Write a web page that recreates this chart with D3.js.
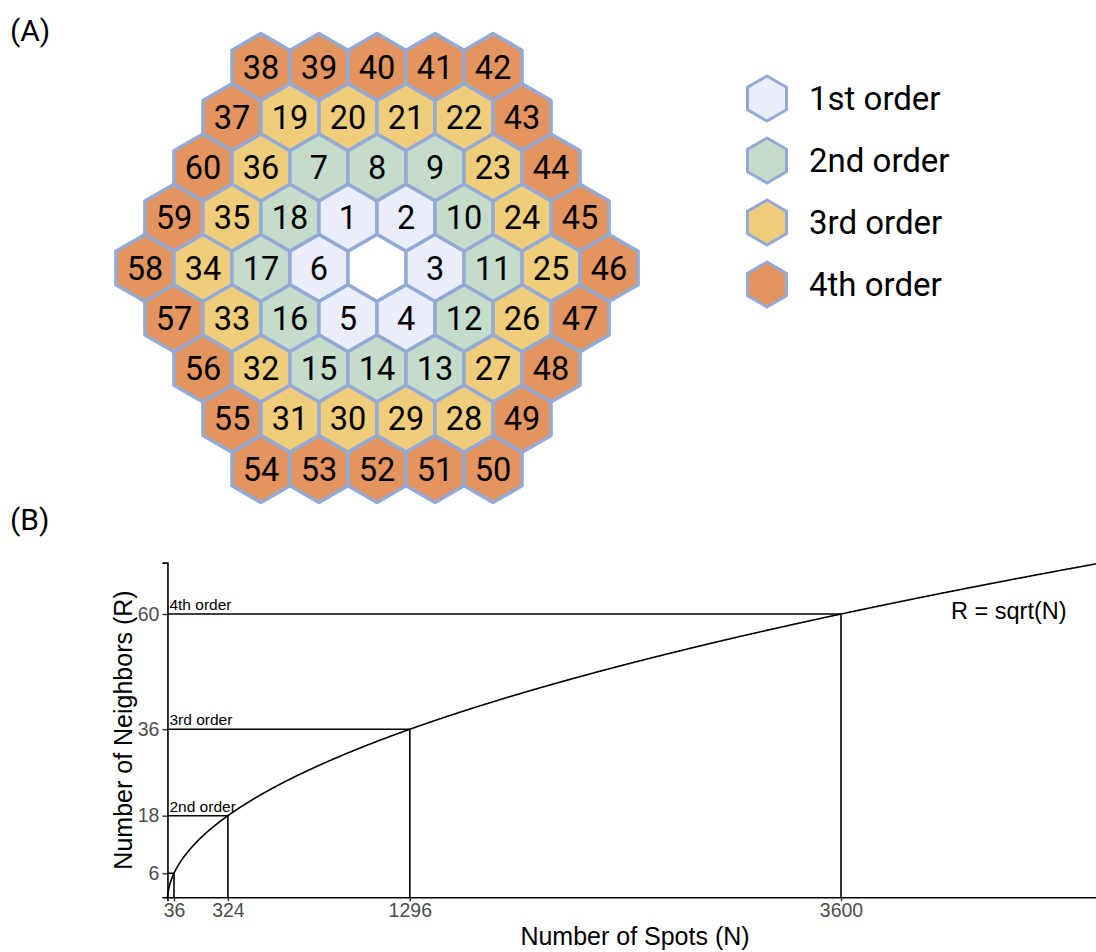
<!DOCTYPE html>
<html>
<head>
<meta charset="utf-8">
<script src="https://cdn.jsdelivr.net/npm/d3@7"></script>
<style>
  html, body { margin: 0; padding: 0; background: #ffffff; }
  svg { display: block; }
</style>
</head>
<body>
<svg id="fig" width="1096" height="952"></svg>
<script>
// ---- Panel A: hexagonal neighbourhood, rows top to bottom (null = centre spot)
const hexRows = [
  [38, 39, 40, 41, 42],
  [37, 19, 20, 21, 22, 43],
  [60, 36, 7, 8, 9, 23, 44],
  [59, 35, 18, 1, 2, 10, 24, 45],
  [58, 34, 17, 6, null, 3, 11, 25, 46],
  [57, 33, 16, 5, 4, 12, 26, 47],
  [56, 32, 15, 14, 13, 27, 48],
  [55, 31, 30, 29, 28, 49],
  [54, 53, 52, 51, 50]
];
// spots belonging to each neighbour order
const orderMembers = [
  [1, 2, 3, 4, 5, 6],
  [7, 8, 9, 10, 11, 12, 13, 14, 15, 16, 17, 18],
  [19, 20, 21, 22, 23, 24, 25, 26, 27, 28, 29, 30, 31, 32, 33, 34, 35, 36],
  [37, 38, 39, 40, 41, 42, 43, 44, 45, 46, 47, 48, 49, 50, 51, 52, 53, 54, 55, 56, 57, 58, 59, 60]
];
const orderNames = ["1st order", "2nd order", "3rd order", "4th order"];
const orderColors = ["#e9eefa", "#c5dccb", "#efcd7b", "#e4945f"];

// ---- Panel B: neighbours vs. spots
const orderSpots = [36, 324, 1296, 3600];
const orderNeighbors = [6, 18, 36, 60];
const orderTags = ["", "2nd order", "3rd order", "4th order"];
const xTicks = [36, 324, 1296, 3600];
const yTicks = [6, 18, 36, 60];
const spotDomain = [1, 5000];

const svg = d3.select("#fig");
const FONT_A = "Roboto, 'Liberation Sans', Arial, sans-serif";
const FONT_B = "'Liberation Sans', Arial, Helvetica, sans-serif";

// panel letters
svg.append("text").attr("x", 10).attr("y", 41)
  .attr("font-family", FONT_A).attr("font-size", 30).attr("fill", "#000").text("(A)");
svg.append("text").attr("x", 10).attr("y", 530)
  .attr("font-family", FONT_A).attr("font-size", 30).attr("fill", "#000").text("(B)");

// ---------- Panel A ----------
const hexR = 33.5;                       // circumradius (pointy-top)
const hexW = Math.sqrt(3) * hexR;
const centre = { x: 377, y: 268 };
const midRow = (hexRows.length - 1) / 2;

const rowY = d3.scaleLinear().domain([0, 1]).range([centre.y - midRow * 1.5 * hexR, centre.y - (midRow - 1) * 1.5 * hexR]);
const colX = d3.scaleLinear().domain([0, 1]).range([centre.x, centre.x + hexW]);

const orderOf = new Map();
orderMembers.forEach((m, i) => m.forEach(v => orderOf.set(v, i)));

function hexPath(r) {
  const pts = d3.range(6).map(k => {
    const a = Math.PI / 180 * (60 * k - 90);
    return [r * Math.cos(a), r * Math.sin(a)];
  });
  return "M" + pts.map(p => p.join(",")).join("L") + "Z";
}

const cells = [];
hexRows.forEach((row, i) => {
  row.forEach((v, j) => {
    cells.push({ label: v, x: colX(j - (row.length - 1) / 2), y: rowY(i) });
  });
});

const gHex = svg.append("g");
const cellG = gHex.selectAll("g.cell").data(cells).join("g")
  .attr("class", "cell")
  .attr("transform", d => `translate(${d.x},${d.y})`);
cellG.append("path")
  .attr("d", hexPath(hexR))
  .attr("fill", d => d.label == null ? "#ffffff" : orderColors[orderOf.get(d.label)])
  .attr("stroke", "#94aad6")
  .attr("stroke-width", 3.5)
  .attr("stroke-linejoin", "round");
cellG.filter(d => d.label != null).append("text")
  .attr("text-anchor", "middle")
  .attr("dy", "0.355em")
  .attr("font-family", FONT_A)
  .attr("font-size", 32.5)
  .attr("fill", "#000")
  .text(d => d.label);

// legend
const legY = d3.scalePoint().domain(orderNames).range([98.5, 284.5]);
const leg = svg.append("g").selectAll("g").data(orderNames).join("g")
  .attr("transform", d => `translate(767,${legY(d)})`);
leg.append("path")
  .attr("d", hexPath(22.5))
  .attr("fill", (d, i) => orderColors[i])
  .attr("stroke", "#94aad6")
  .attr("stroke-width", 3)
  .attr("stroke-linejoin", "round");
leg.append("text")
  .attr("x", 42).attr("dy", "0.35em")
  .attr("font-family", FONT_A).attr("font-size", 33).attr("fill", "#000")
  .text(d => d);

// ---------- Panel B ----------
const x = d3.scaleLinear().domain(spotDomain).range([167.45, 1103]);
const y = d3.scaleLinear().domain([1, Math.sqrt(spotDomain[1])]).range([897.3, 562.6]);

const gB = svg.append("g");

// reference lines for each order
orderSpots.forEach((n, i) => {
  const r = orderNeighbors[i];
  gB.append("line")
    .attr("x1", x(spotDomain[0])).attr("x2", x(n))
    .attr("y1", y(r)).attr("y2", y(r))
    .attr("stroke", "#000").attr("stroke-width", 1.6);
  gB.append("line")
    .attr("x1", x(n)).attr("x2", x(n))
    .attr("y1", y(1)).attr("y2", y(r))
    .attr("stroke", "#000").attr("stroke-width", 1.6);
  if (orderTags[i]) {
    gB.append("text")
      .attr("x", x(spotDomain[0]) + 2).attr("y", y(r) - 4)
      .attr("font-family", FONT_B).attr("font-size", 15.5).attr("fill", "#000")
      .text(orderTags[i]);
  }
});

// R = sqrt(N) curve
const curveN = d3.range(0, 1001).map(k => spotDomain[0] + (spotDomain[1] - spotDomain[0]) * Math.pow(k / 1000, 2));
gB.append("path")
  .datum(curveN)
  .attr("d", d3.line().x(n => x(n)).y(n => y(Math.sqrt(n))))
  .attr("fill", "none").attr("stroke", "#000").attr("stroke-width", 1.6);

gB.append("text")
  .attr("x", 951).attr("y", 619)
  .attr("font-family", FONT_B).attr("font-size", 23.5).attr("fill", "#000")
  .text("R = sqrt(N)");

// axes
const xAxis = gB.append("g").attr("transform", `translate(0,${y(1)})`)
  .call(d3.axisBottom(x).tickValues(xTicks).tickSize(4).tickPadding(2).tickFormat(d3.format("d")));
const yAxis = gB.append("g").attr("transform", `translate(${x(spotDomain[0])},0)`)
  .call(d3.axisLeft(y).tickValues(yTicks).tickSize(5).tickPadding(3).tickFormat(d3.format("d")));
[xAxis, yAxis].forEach(a => {
  a.select(".domain").attr("stroke", "#000").attr("stroke-width", 1.6);
  a.selectAll(".tick line").attr("stroke", "#333").attr("stroke-width", 1.4);
  a.selectAll(".tick text").attr("fill", "#4d4d4d")
    .attr("font-family", FONT_B).attr("font-size", 19.5);
});

gB.append("text")
  .attr("x", 635).attr("y", 945).attr("text-anchor", "middle")
  .attr("font-family", FONT_B).attr("font-size", 25).attr("fill", "#000")
  .text("Number of Spots (N)");
gB.append("text")
  .attr("transform", "translate(132,730) rotate(-90)").attr("text-anchor", "middle")
  .attr("font-family", FONT_B).attr("font-size", 25).attr("fill", "#000")
  .text("Number of Neighbors (R)");
</script>
</body>
</html>
